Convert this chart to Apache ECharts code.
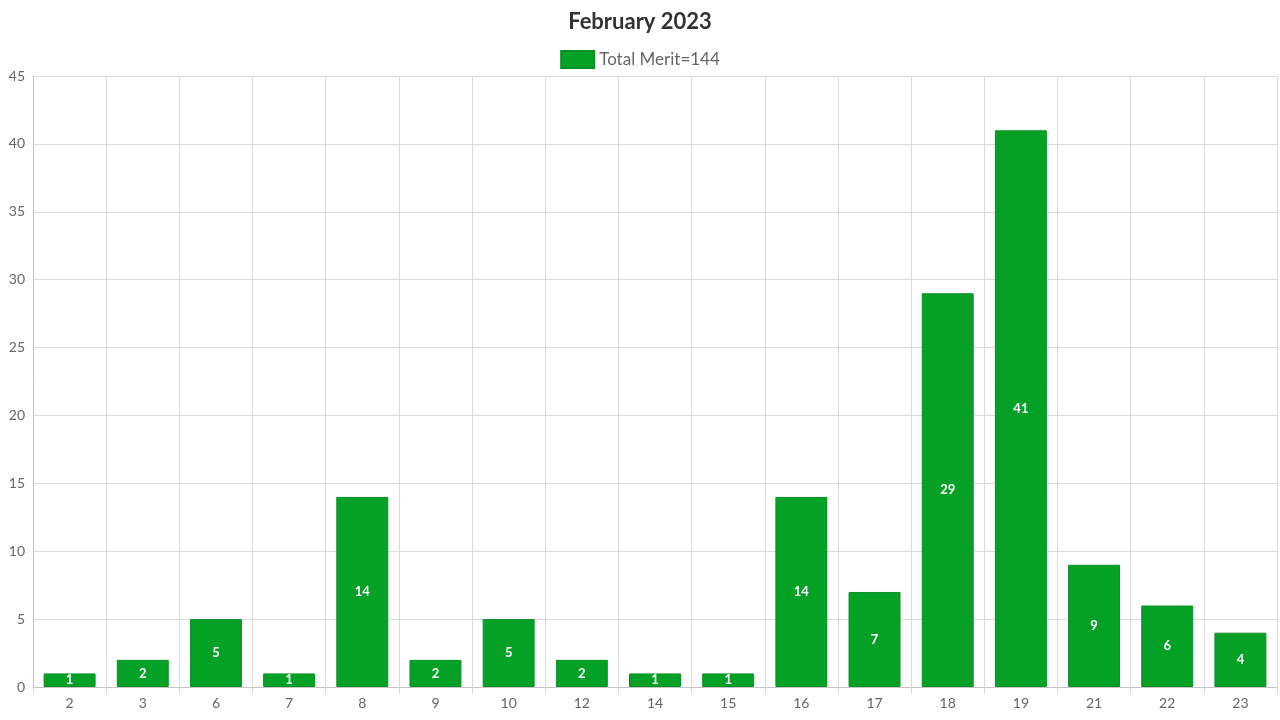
<!DOCTYPE html>
<html><head><meta charset="utf-8">
<script src="https://cdn.jsdelivr.net/npm/echarts@6/dist/echarts.min.js"></script>
<style>html,body{margin:0;padding:0;background:#fff}#c{width:1280px;height:720px}</style>
</head><body><div id="c"></div>
<script>
const categories = ['2','3','6','7','8','9','10','12','14','15','16','17','18','19','21','22','23'];
const merit = [1,2,5,1,14,2,5,2,1,1,14,7,29,41,9,6,4];
const seriesName = 'Total Merit=144';
const chartTitle = 'February 2023';

const chart = echarts.init(document.getElementById('c'));
chart.setOption({
  animation:false,
  backgroundColor:'#fff',
  textStyle:{fontFamily:'Lato'},
  title:{text:chartTitle,left:'center',top:6,textStyle:{fontFamily:'Lato',fontSize:22,fontWeight:'bold',color:'#333'}},
  legend:{top:45,left:'center',itemWidth:33,itemHeight:17,itemGap:10,
    textStyle:{fontFamily:'Lato',fontSize:17,color:'#666'},
    data:[{name:seriesName,icon:'rect'}]},
  grid:{left:33,right:3,top:76,bottom:33,containLabel:false},
  xAxis:{type:'category',data:categories,boundaryGap:true,
    axisLine:{lineStyle:{color:'#c4c4c4'}},
    axisTick:{show:true,length:7,lineStyle:{color:'#d8d8d8'}},
    axisLabel:{fontFamily:'Lato',fontSize:14,color:'#666',margin:9},
    splitLine:{show:true,lineStyle:{color:'#dadada'}}},
  yAxis:{type:'value',min:0,max:45,interval:5,
    axisLine:{show:true,lineStyle:{color:'#c4c4c4'}},
    axisTick:{show:false},
    axisLabel:{fontFamily:'Lato',fontSize:14,color:'#666',margin:8},
    splitLine:{show:true,lineStyle:{color:'#dadada'}}},
  series:[{name:seriesName,type:'bar',data:merit,barWidth:'71%',
    itemStyle:{color:'#05a127',borderColor:'#0a8f25',borderWidth:1},
    label:{show:true,position:'inside',color:'#fff',fontFamily:'Lato',fontWeight:'bold',fontSize:13}}]
});
</script></body></html>
